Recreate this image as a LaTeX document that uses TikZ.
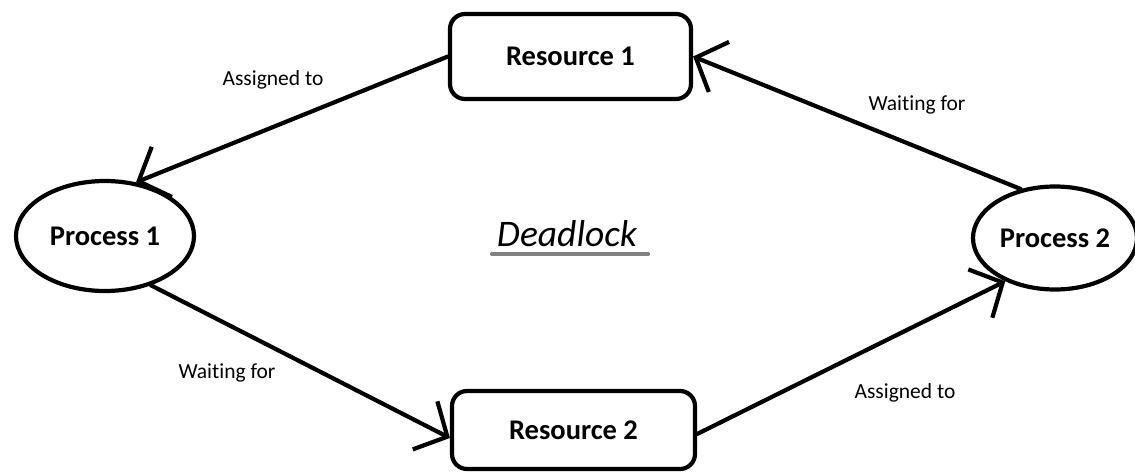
\documentclass[tikz,border=0pt]{standalone}
\usepackage{fontspec}
\setmainfont{Carlito}[Ligatures=NoCommon]
\usetikzlibrary{arrows.meta,shapes.geometric}
\begin{document}
\begin{tikzpicture}[x=1pt,y=-1pt,
  line width=4.2pt, line cap=round, line join=round,
  resbox/.style={draw, rounded corners=15pt, inner sep=0pt,
    font=\fontsize{28.5}{31}\selectfont\bfseries},
  procell/.style={draw, ellipse, inner sep=0pt,
    font=\fontsize{28.5}{31}\selectfont\bfseries},
  lbl/.style={font=\fontsize{21.5}{24}\selectfont, inner sep=0pt},
  arr/.style={-{Straight Barb[length=25pt,width=54pt]}}]
  \useasboundingbox (0,0) rectangle (1135,472);
  % resources
  \node[resbox, minimum width=241pt, minimum height=85pt] (res1) at (570.5,56.5) {Resource 1};
  \node[resbox, minimum width=243pt, minimum height=78pt] (res2) at (573.5,430) {Resource 2};
  % processes
  \node[procell, minimum width=178pt, minimum height=110pt] (proc1) at (105,236) {Process 1};
  \node[procell, minimum width=164pt, minimum height=103pt] (proc2) at (1055,238) {Process 2};
  % title
  \node[font=\fontsize{37.5}{42}\selectfont\itshape, inner sep=0pt] (title) at (567,234) {Deadlock};
  \coordinate (ulA) at (492,254);
  \coordinate (ulB) at (648,254);
  \draw[color={rgb,255:red,128;green,128;blue,128}] (ulA) -- (ulB);
  % edges
  \draw[arr] (res1.west) -- (proc1.60);
  \draw[arr] (proc2.125) -- (res1.east);
  \draw[arr] (proc1.-47) -- ([yshift=-8pt]res2.west);
  \draw[arr] ([yshift=-4pt]res2.east) -- (proc2.221);
  % edge labels
  \node[lbl] (l1) at (273,80) {Assigned to};
  \node[lbl] (l2) at (917,105) {Waiting for};
  \node[lbl] (l3) at (227,373) {Waiting for};
  \node[lbl] (l4) at (905,393) {Assigned to};
\end{tikzpicture}
\end{document}
